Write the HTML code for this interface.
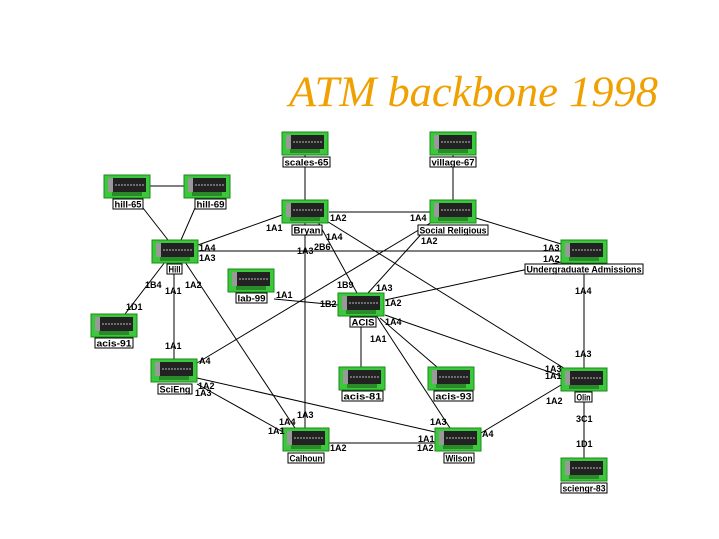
<!DOCTYPE html>
<html><head><meta charset="utf-8"><style>
body{margin:0;background:#fff;width:719px;height:539px;overflow:hidden}
svg{display:block}
text{font-family:"Liberation Sans",sans-serif;font-size:9px;font-weight:bold;fill:#000}
.t{font-family:"Liberation Serif",serif;font-style:italic;font-size:43px;font-weight:normal;fill:#f0a000}
.lb{fill:#fff;stroke:#000;stroke-width:1}
</style></head><body>
<svg width="719" height="539" viewBox="0 0 719 539">
<defs>
<g id="n">
<rect x="0" y="0" width="46" height="23" fill="#3cc83c" stroke="#1a8a1a"/>
<rect x="4" y="3" width="38" height="14" fill="#222"/>
<rect x="4" y="3" width="5" height="14" fill="#999"/>
<line x1="11" y1="10" x2="40" y2="10" stroke="#bbb" stroke-dasharray="2,1"/>
<rect x="8" y="17" width="30" height="4" fill="#2a8a2a"/>
</g>
</defs>
<text class="t" x="289" y="106" textLength="369" lengthAdjust="spacingAndGlyphs">ATM backbone 1998</text>
<g stroke="#000" stroke-width="1" fill="none">
<line x1="305" y1="155" x2="305" y2="200"/>
<line x1="453" y1="155" x2="453" y2="200"/>
<line x1="150" y1="186" x2="184" y2="186"/>
<line x1="143" y1="208" x2="168" y2="240"/>
<line x1="195" y1="208" x2="181" y2="240"/>
<line x1="329" y1="212" x2="430" y2="212"/>
<line x1="198" y1="251" x2="561" y2="251"/>
<line x1="282" y1="215" x2="198" y2="245"/>
<line x1="165" y1="262" x2="125" y2="314"/>
<line x1="174" y1="262" x2="174" y2="359"/>
<line x1="185" y1="262" x2="295" y2="428"/>
<line x1="305" y1="222" x2="305" y2="428"/>
<line x1="318" y1="222" x2="357" y2="293"/>
<line x1="325" y1="220" x2="567" y2="370"/>
<line x1="476" y1="218" x2="561" y2="244"/>
<line x1="432" y1="222" x2="197" y2="363"/>
<line x1="425" y1="230" x2="368" y2="293"/>
<line x1="561" y1="262" x2="385" y2="300"/>
<line x1="584" y1="262" x2="584" y2="368"/>
<line x1="274" y1="299" x2="338" y2="305"/>
<line x1="385" y1="315" x2="561" y2="376"/>
<line x1="361" y1="315" x2="361" y2="367"/>
<line x1="380" y1="318" x2="437" y2="367"/>
<line x1="376" y1="315" x2="450" y2="428"/>
<line x1="197" y1="378" x2="435" y2="432"/>
<line x1="197" y1="384" x2="283" y2="432"/>
<line x1="329" y1="443" x2="435" y2="443"/>
<line x1="481" y1="433" x2="561" y2="385"/>
<line x1="584" y1="402" x2="584" y2="458"/>
</g>
<use href="#n" x="282" y="132"/><use href="#n" x="430" y="132"/>
<use href="#n" x="104" y="175"/><use href="#n" x="184" y="175"/>
<use href="#n" x="282" y="200"/><use href="#n" x="430" y="200"/>
<use href="#n" x="152" y="240"/><use href="#n" x="561" y="240"/>
<use href="#n" x="228" y="269"/><use href="#n" x="338" y="293"/>
<use href="#n" x="91" y="314"/><use href="#n" x="151" y="359"/>
<use href="#n" x="339" y="367"/><use href="#n" x="428" y="367"/>
<use href="#n" x="561" y="368"/><use href="#n" x="283" y="428"/>
<use href="#n" x="435" y="428"/><use href="#n" x="561" y="458"/>
<g>
<rect class="lb" x="283" y="157" width="47" height="10"/><text x="306.5" y="165.5" text-anchor="middle" textLength="44" lengthAdjust="spacingAndGlyphs">scales-65</text>
<rect class="lb" x="430" y="157" width="46" height="10"/><text x="453" y="165.5" text-anchor="middle" textLength="43" lengthAdjust="spacingAndGlyphs">village-67</text>
<rect class="lb" x="113" y="199" width="30" height="10"/><text x="128" y="207.5" text-anchor="middle" textLength="27" lengthAdjust="spacingAndGlyphs">hill-65</text>
<rect class="lb" x="195" y="199" width="31" height="10"/><text x="210.5" y="207.5" text-anchor="middle" textLength="28" lengthAdjust="spacingAndGlyphs">hill-69</text>
<rect class="lb" x="292" y="225" width="30" height="10"/><text x="307" y="233.5" text-anchor="middle" textLength="27" lengthAdjust="spacingAndGlyphs">Bryan</text>
<rect class="lb" x="418" y="225" width="70" height="10"/><text x="453" y="233.5" text-anchor="middle" textLength="67" lengthAdjust="spacingAndGlyphs">Social Religious</text>
<rect class="lb" x="167" y="264" width="15" height="10"/><text x="174.5" y="272.5" text-anchor="middle" textLength="12" lengthAdjust="spacingAndGlyphs">Hill</text>
<rect class="lb" x="525" y="264" width="118" height="10"/><text x="584" y="272.5" text-anchor="middle" textLength="115" lengthAdjust="spacingAndGlyphs">Undergraduate Admissions</text>
<rect class="lb" x="236" y="293" width="31" height="10"/><text x="251.5" y="301.5" text-anchor="middle" textLength="28" lengthAdjust="spacingAndGlyphs">lab-99</text>
<rect class="lb" x="350" y="317" width="26" height="10"/><text x="363" y="325.5" text-anchor="middle" textLength="23" lengthAdjust="spacingAndGlyphs">ACIS</text>
<rect class="lb" x="95" y="338" width="38" height="10"/><text x="114" y="346.5" text-anchor="middle" textLength="35" lengthAdjust="spacingAndGlyphs">acis-91</text>
<rect class="lb" x="158" y="384" width="34" height="10"/><text x="175" y="392.5" text-anchor="middle" textLength="31" lengthAdjust="spacingAndGlyphs">SciEng</text>
<rect class="lb" x="342" y="391" width="41" height="10"/><text x="362.5" y="399.5" text-anchor="middle" textLength="38" lengthAdjust="spacingAndGlyphs">acis-81</text>
<rect class="lb" x="434" y="391" width="39" height="10"/><text x="453.5" y="399.5" text-anchor="middle" textLength="36" lengthAdjust="spacingAndGlyphs">acis-93</text>
<rect class="lb" x="575" y="392" width="17" height="10"/><text x="583.5" y="400.5" text-anchor="middle" textLength="14" lengthAdjust="spacingAndGlyphs">Olin</text>
<rect class="lb" x="288" y="453" width="36" height="10"/><text x="306" y="461.5" text-anchor="middle" textLength="33" lengthAdjust="spacingAndGlyphs">Calhoun</text>
<rect class="lb" x="444" y="453" width="30" height="10"/><text x="459" y="461.5" text-anchor="middle" textLength="27" lengthAdjust="spacingAndGlyphs">Wilson</text>
<rect class="lb" x="561" y="483" width="46" height="10"/><text x="584" y="491.5" text-anchor="middle" textLength="43" lengthAdjust="spacingAndGlyphs">sciengr-83</text>
</g>
<g>
<text x="330" y="221">1A2</text><text x="410" y="221">1A4</text>
<text x="266" y="231">1A1</text><text x="326" y="240">1A4</text>
<text x="199" y="251">1A4</text><text x="199" y="261">1A3</text>
<text x="297" y="254">1A3</text><text x="314" y="250">2B6</text>
<text x="421" y="244">1A2</text>
<text x="543" y="251">1A3</text><text x="543" y="262">1A2</text>
<text x="145" y="288">1B4</text><text x="165" y="294">1A1</text><text x="185" y="288">1A2</text>
<text x="126" y="310">1D1</text><text x="276" y="298">1A1</text>
<text x="337" y="288">1B9</text><text x="320" y="307">1B2</text>
<text x="376" y="291">1A3</text><text x="385" y="306">1A2</text>
<text x="385" y="325">1A4</text><text x="370" y="342">1A1</text>
<text x="575" y="294">1A4</text><text x="165" y="349">1A1</text>
<text x="199" y="364">A4</text><text x="198" y="389">1A2</text><text x="195" y="396">1A3</text>
<text x="575" y="357">1A3</text><text x="545" y="372">1A3</text><text x="545" y="379">1A1</text>
<text x="546" y="404">1A2</text><text x="576" y="422">3C1</text><text x="576" y="447">1D1</text>
<text x="297" y="418">1A3</text><text x="279" y="425">1A4</text><text x="268" y="434">1A1</text>
<text x="330" y="451">1A2</text><text x="430" y="425">1A3</text>
<text x="418" y="442">1A1</text><text x="417" y="451">1A2</text><text x="482" y="437">A4</text>
</g>
</svg>
</body></html>
